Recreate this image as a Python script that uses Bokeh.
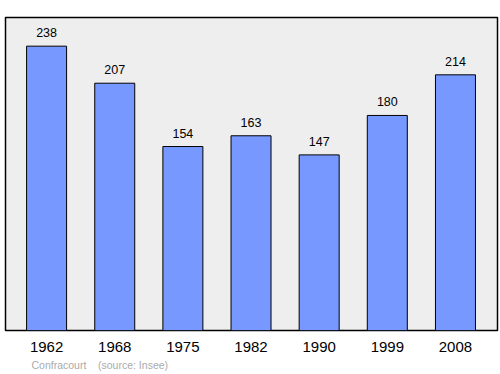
from bokeh.plotting import figure
from bokeh.models import ColumnDataSource, Range1d, Title
from bokeh.core.properties import value
from bokeh.embed import file_html
from bokeh.resources import INLINE

years = ["1962", "1968", "1975", "1982", "1990", "1999", "2008"]
population = [238, 207, 154, 163, 147, 180, 214]
place = "Confracourt"
source_note = "(source: Insee)"

xs = list(range(len(years)))
src = ColumnDataSource(dict(x=xs, y=population, label=[str(v) for v in population]))

p = figure(width=500, height=374, output_backend="svg", toolbar_location=None,
           x_range=Range1d(-0.603, 6.617), y_range=Range1d(0, 262),
           min_border_left=5, min_border_right=3, min_border_top=17, min_border_bottom=44)
p.background_fill_color = "#eeeeee"
p.border_fill_color = "white"
p.outline_line_color = "black"
p.outline_line_width = 1.5
p.grid.visible = False
p.yaxis.visible = False

p.vbar(x="x", top="y", bottom=0, width=0.587, source=src,
       fill_color="#7799ff", line_color="black", line_width=1)
p.text(x="x", y="y", text="label", source=src, text_align="center",
       text_baseline="bottom", y_offset=-9, text_font=value("Liberation Sans"),
       text_font_size="12.5px", text_color="black")

xa = p.xaxis[0]
xa.ticker = xs
xa.major_label_overrides = {i: y for i, y in enumerate(years)}
xa.axis_line_color = None
xa.major_tick_line_color = None
xa.minor_tick_line_color = None
xa.major_label_standoff = 5
xa.major_label_text_font = "Liberation Sans"
xa.major_label_text_font_size = "15px"
xa.major_label_text_color = "black"

note = Title(text=place + "\u00a0\u00a0\u00a0\u00a0" + source_note, align="left", offset=26,
             text_font="Liberation Sans", text_font_size="10.5px", text_font_style="normal",
             text_color="#aaaaaa", standoff=5)
p.add_layout(note, "below")

open("out.html", "w").write(file_html(p, INLINE))
